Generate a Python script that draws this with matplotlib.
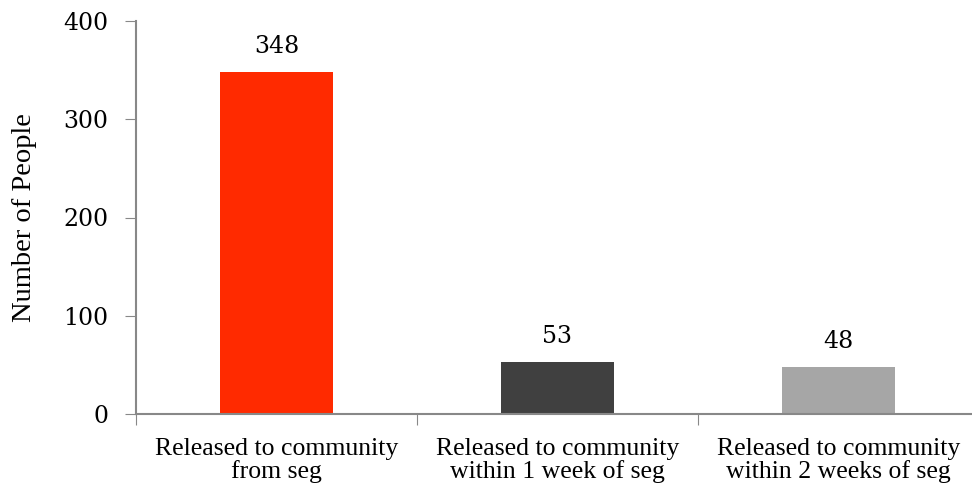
import matplotlib
matplotlib.use('Agg')
import matplotlib.pyplot as plt

categories = ['Released to community\nfrom seg',
              'Released to community\nwithin 1 week of seg',
              'Released to community\nwithin 2 weeks of seg']
values = [348, 53, 48]
colors = ['#FF2A00', '#404040', '#A6A6A6']
yticks = [0, 100, 200, 300, 400]

plt.rcParams['font.family'] = ['Liberation Serif', 'DejaVu Serif']
num_font = ['DejaVu Serif']

fig = plt.figure(figsize=(9.72, 4.83), dpi=100)
ax = fig.add_axes([136 / 972, 69 / 483, 843 / 972, 393 / 483])

x = list(range(len(categories)))
bars = ax.bar(x, values, width=0.4, color=colors)
for b, v in zip(bars, values):
    ax.text(b.get_x() + b.get_width() / 2, v + 14, str(v),
            ha='center', va='bottom', fontsize=17, family=num_font)

ax.set_xlim(-0.5, 2.5)
ax.set_ylim(0, 400)
ax.set_yticks(yticks)
ax.set_yticklabels([str(t) for t in yticks], fontsize=17, family=num_font)
# category boundaries get the ticks, names sit between them
ax.set_xticks([-0.5, 0.5, 1.5, 2.5], minor=False)
ax.set_xticklabels([])
ax.set_xticks(x, minor=True)
ax.set_xticklabels(categories, minor=True, fontsize=18.5, linespacing=1.0)
ax.tick_params(axis='x', which='minor', length=0, pad=17)
ax.tick_params(axis='x', which='major', length=8, color='#888888', direction='out')
ax.tick_params(axis='y', length=8, color='#888888', direction='out', pad=12)
ax.set_ylabel('Number of People', fontsize=20.5, labelpad=19)

for s in ['top', 'right']:
    ax.spines[s].set_visible(False)
for s in ['left', 'bottom']:
    ax.spines[s].set_color('#888888')
    ax.spines[s].set_linewidth(1.5)

fig.savefig('out.png', dpi=100)
